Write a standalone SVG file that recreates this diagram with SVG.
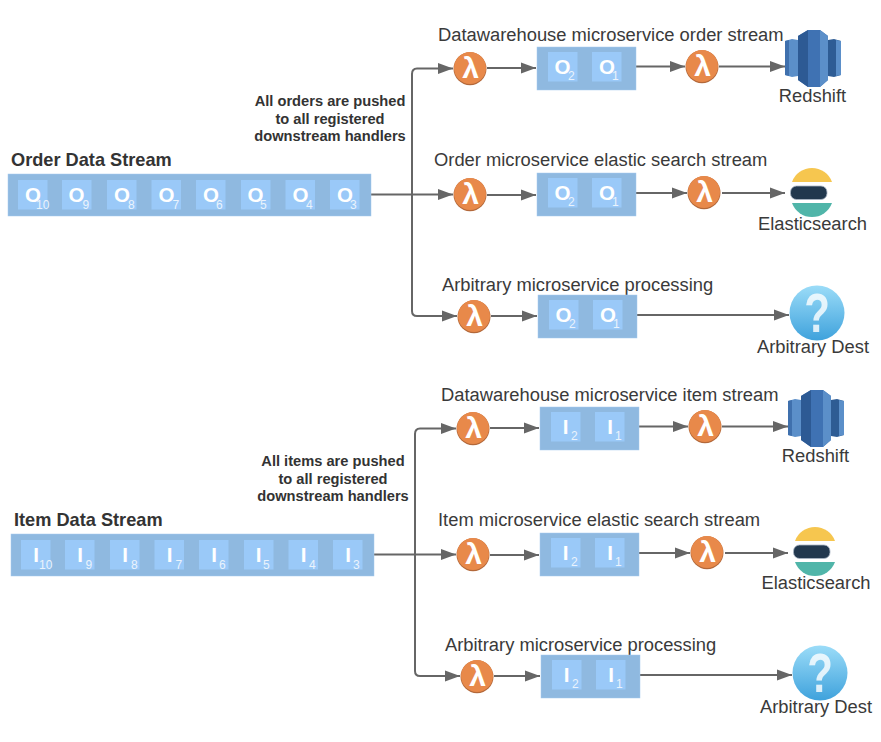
<svg xmlns="http://www.w3.org/2000/svg" width="881" height="742" viewBox="0 0 881 742">
<style>
text{font-family:"Liberation Sans",Arial,sans-serif}
.lb{font-size:18.35px;fill:#3a3a3a}
.mid{text-anchor:middle}
.ti{font-size:18.2px;font-weight:bold;fill:#333}
.nt{font-size:14.67px;font-weight:bold;fill:#333;text-anchor:middle}
.box{fill:#8fb9e0;stroke:#a6cbee;stroke-width:.5}
.sq{fill:#9ac9f8}
.ch{font-size:20.5px;font-weight:bold;fill:#fff;text-anchor:middle}
.sb{font-size:12px;fill:#eaf3fc}
.la{font-size:30px;font-weight:bold;fill:#fff;text-anchor:middle}
.qm{font-size:56px;font-weight:bold;fill:#fff;fill-opacity:.8;text-anchor:middle}
.c{fill:none;stroke:#666;stroke-width:2}
.ar{marker-end:url(#ah)}
</style>
<defs>
<marker id="ah" markerUnits="userSpaceOnUse" markerWidth="16" markerHeight="14" refX="15" refY="6" orient="auto"><path d="M0 0.500L15 6L0 11.500Z" fill="#666"/></marker>
<linearGradient id="q" x1="0" y1="0" x2="0" y2="1"><stop offset="0" stop-color="#9bdcf8"/><stop offset="1" stop-color="#3fa2dc"/></linearGradient>
<g id="lam"><circle r="16.500" cy="0.700" fill="#b3683a"/><circle r="16" fill="#e8894a"/></g>
<g id="rs">
<path d="M-27-17L-20-19L-14-18V18L-20 19L-27 17Z" fill="#5b8fc9"/><path d="M-27-17L-23-18V18L-27 17Z" fill="#3f70ad"/>
<path d="M29-17L22-19L16-18V18L22 19L29 17Z" fill="#2e5c94"/><path d="M29-17L24-18V18L29 17Z" fill="#5b8fc9"/>
<path d="M-14-22L-4-28H8L16-22V22L8 29H-4L-14 22Z" fill="#3f72b3"/>
<path d="M-14-22L-4-28V29L-14 22Z" fill="#2d5a94"/><path d="M8-28L16-22V22L8 29Z" fill="#5b8fc9"/>
</g>
<g id="es">
<path d="M-20-11A21.300 21.300 0 0 1 20-11Z" fill="#f6c64f"/>
<rect x="-21.500" y="-7" width="36.500" height="13.500" rx="6" fill="#22384e" stroke="#a9b5c4" stroke-width=".8"/>
<path d="M-20 10H20A21.300 21.300 0 0 1-20 10Z" fill="#50b5a9"/>
</g>
</defs>

<g id="connectors">
<path class="c" d="M371 194.500H412"/>
<path class="c ar" d="M412 194.500H453"/>
<path class="c ar" d="M412 194V74Q412 68.500 417 68.500H453"/>
<path class="c ar" d="M412 195V311Q412 316 417 316H457"/>
<path class="c ar" d="M487 68H536"/><path class="c ar" d="M636 66.500H685"/><path class="c ar" d="M719 66.500H785"/>
<path class="c ar" d="M487 195H536"/><path class="c ar" d="M636 193H687"/><path class="c ar" d="M722 193H785"/>
<path class="c ar" d="M491 316H537"/><path class="c ar" d="M637 315H789"/>
<path class="c" d="M374 554.500H415"/>
<path class="c ar" d="M415 554.500H456"/>
<path class="c ar" d="M415 554V434Q415 428.500 420 428.500H456"/>
<path class="c ar" d="M415 555V671Q415 676 420 676H460"/>
<path class="c ar" d="M490 428H539"/><path class="c ar" d="M639 426.500H688"/><path class="c ar" d="M722 426.500H788"/>
<path class="c ar" d="M490 555H539"/><path class="c ar" d="M639 553H690"/><path class="c ar" d="M725 553H788"/>
<path class="c ar" d="M494 676H540"/><path class="c ar" d="M640 675H792"/>
</g>

<g id="order-stream">
<text class="ti" x="11" y="166">Order Data Stream</text>
<rect class="box" x="8" y="174" width="363" height="42"/>
<rect class="sq" x="18" y="180" width="29.500" height="29.500"/><text class="ch" x="33" y="201.500">O</text><text class="sb" x="36" y="209">10</text>
<rect class="sq" x="62" y="180" width="29.500" height="29.500"/><text class="ch" x="76.500" y="201.500">O</text><text class="sb" x="82.500" y="209">9</text>
<rect class="sq" x="107" y="180" width="29.500" height="29.500"/><text class="ch" x="122" y="201.500">O</text><text class="sb" x="128" y="209">8</text>
<rect class="sq" x="151.500" y="180" width="29.500" height="29.500"/><text class="ch" x="166.500" y="201.500">O</text><text class="sb" x="172.500" y="209">7</text>
<rect class="sq" x="196" y="180" width="29.500" height="29.500"/><text class="ch" x="211" y="201.500">O</text><text class="sb" x="216" y="209">6</text>
<rect class="sq" x="241" y="180" width="29.500" height="29.500"/><text class="ch" x="255.500" y="201.500">O</text><text class="sb" x="260" y="209">5</text>
<rect class="sq" x="285.500" y="180" width="29.500" height="29.500"/><text class="ch" x="300.500" y="201.500">O</text><text class="sb" x="306" y="209">4</text>
<rect class="sq" x="330" y="180" width="29.500" height="29.500"/><text class="ch" x="345" y="201.500">O</text><text class="sb" x="350" y="209">3</text>
</g>
<g id="order-note">
<text class="nt" x="330" y="106">All orders are pushed</text>
<text class="nt" x="330" y="124">to all registered</text>
<text class="nt" x="330" y="141">downstream handlers</text>
</g>

<g id="order-dw">
<text class="lb" x="438" y="41">Datawarehouse microservice order stream</text>
<use href="#lam" x="470" y="68"/><text class="la" x="470.500" y="77.500">λ</text>
<rect class="box" x="537" y="47" width="99" height="43"/>
<rect class="sq" x="548" y="52" width="29.500" height="29.500"/><text class="ch" x="562.500" y="73.500">O</text><text class="sb" x="568" y="80">2</text>
<rect class="sq" x="592" y="52" width="29.500" height="29.500"/><text class="ch" x="607" y="73.500">O</text><text class="sb" x="612" y="80">1</text>
<use href="#lam" x="702" y="66"/><text class="la" x="702.500" y="75.500">λ</text>
</g>
<g id="order-redshift"><use href="#rs" x="812" y="58"/><text class="lb mid" x="812.500" y="102">Redshift</text></g>

<g id="order-es">
<text class="lb" x="434" y="166">Order microservice elastic search stream</text>
<use href="#lam" x="470" y="194"/><text class="la" x="470.500" y="203.500">λ</text>
<rect class="box" x="537" y="173" width="99" height="43"/>
<rect class="sq" x="548" y="178" width="29.500" height="29.500"/><text class="ch" x="562.500" y="199.500">O</text><text class="sb" x="568" y="206">2</text>
<rect class="sq" x="592" y="178" width="29.500" height="29.500"/><text class="ch" x="607" y="199.500">O</text><text class="sb" x="612" y="206">1</text>
<use href="#lam" x="704" y="192"/><text class="la" x="704.500" y="201.500">λ</text>
</g>
<g id="order-elastic"><use href="#es" x="812" y="193"/><text class="lb mid" x="812.500" y="230">Elasticsearch</text></g>

<g id="order-arb">
<text class="lb" x="442" y="291">Arbitrary microservice processing</text>
<use href="#lam" x="474" y="316"/><text class="la" x="474.500" y="325.500">λ</text>
<rect class="box" x="538" y="295" width="99" height="43"/>
<rect class="sq" x="549" y="300" width="29.500" height="29.500"/><text class="ch" x="563.500" y="321.500">O</text><text class="sb" x="569" y="328">2</text>
<rect class="sq" x="593" y="300" width="29.500" height="29.500"/><text class="ch" x="608" y="321.500">O</text><text class="sb" x="613" y="328">1</text>
</g>
<g id="order-dest"><circle cx="817" cy="313" r="27.500" fill="url(#q)"/><text class="qm" transform="translate(817 332) scale(.75 1)">?</text><text class="lb mid" x="813" y="353">Arbitrary Dest</text></g>

<g id="item-stream">
<text class="ti" x="14" y="526">Item Data Stream</text>
<rect class="box" x="11" y="534" width="363" height="42"/>
<rect class="sq" x="21" y="540" width="29.500" height="29.500"/><text class="ch" x="36" y="561.500">I</text><text class="sb" x="39" y="569">10</text>
<rect class="sq" x="65" y="540" width="29.500" height="29.500"/><text class="ch" x="80" y="561.500">I</text><text class="sb" x="85.500" y="569">9</text>
<rect class="sq" x="110" y="540" width="29.500" height="29.500"/><text class="ch" x="125" y="561.500">I</text><text class="sb" x="131" y="569">8</text>
<rect class="sq" x="154.500" y="540" width="29.500" height="29.500"/><text class="ch" x="169.500" y="561.500">I</text><text class="sb" x="175.500" y="569">7</text>
<rect class="sq" x="199" y="540" width="29.500" height="29.500"/><text class="ch" x="214" y="561.500">I</text><text class="sb" x="219" y="569">6</text>
<rect class="sq" x="244" y="540" width="29.500" height="29.500"/><text class="ch" x="258.500" y="561.500">I</text><text class="sb" x="263" y="569">5</text>
<rect class="sq" x="288.500" y="540" width="29.500" height="29.500"/><text class="ch" x="303.500" y="561.500">I</text><text class="sb" x="309" y="569">4</text>
<rect class="sq" x="333" y="540" width="29.500" height="29.500"/><text class="ch" x="348" y="561.500">I</text><text class="sb" x="353" y="569">3</text>
</g>
<g id="item-note">
<text class="nt" x="333" y="466">All items are pushed</text>
<text class="nt" x="333" y="484">to all registered</text>
<text class="nt" x="333" y="501">downstream handlers</text>
</g>

<g id="item-dw">
<text class="lb" x="441" y="401">Datawarehouse microservice item stream</text>
<use href="#lam" x="473" y="428"/><text class="la" x="473.500" y="437.500">λ</text>
<rect class="box" x="540" y="407" width="99" height="43"/>
<rect class="sq" x="551" y="412" width="29.500" height="29.500"/><text class="ch" x="565.500" y="433.500">I</text><text class="sb" x="571" y="440">2</text>
<rect class="sq" x="595" y="412" width="29.500" height="29.500"/><text class="ch" x="610" y="433.500">I</text><text class="sb" x="615" y="440">1</text>
<use href="#lam" x="705" y="426"/><text class="la" x="705.500" y="435.500">λ</text>
</g>
<g id="item-redshift"><use href="#rs" x="815" y="418"/><text class="lb mid" x="815.500" y="462">Redshift</text></g>

<g id="item-es">
<text class="lb" x="438" y="526">Item microservice elastic search stream</text>
<use href="#lam" x="473" y="554"/><text class="la" x="473.500" y="563.500">λ</text>
<rect class="box" x="540" y="533" width="99" height="43"/>
<rect class="sq" x="551" y="538" width="29.500" height="29.500"/><text class="ch" x="565.500" y="559.500">I</text><text class="sb" x="571" y="566">2</text>
<rect class="sq" x="595" y="538" width="29.500" height="29.500"/><text class="ch" x="610" y="559.500">I</text><text class="sb" x="615" y="566">1</text>
<use href="#lam" x="707" y="552"/><text class="la" x="707.500" y="561.500">λ</text>
</g>
<g id="item-elastic"><use href="#es" x="815" y="552"/><text class="lb mid" x="816" y="589">Elasticsearch</text></g>

<g id="item-arb">
<text class="lb" x="445" y="651">Arbitrary microservice processing</text>
<use href="#lam" x="477" y="676"/><text class="la" x="477.500" y="685.500">λ</text>
<rect class="box" x="541" y="655" width="99" height="43"/>
<rect class="sq" x="552" y="660" width="29.500" height="29.500"/><text class="ch" x="566.500" y="681.500">I</text><text class="sb" x="572" y="688">2</text>
<rect class="sq" x="596" y="660" width="29.500" height="29.500"/><text class="ch" x="611" y="681.500">I</text><text class="sb" x="616" y="688">1</text>
</g>
<g id="item-dest"><circle cx="820" cy="673" r="27.500" fill="url(#q)"/><text class="qm" transform="translate(820 692) scale(.75 1)">?</text><text class="lb mid" x="816" y="713">Arbitrary Dest</text></g>
</svg>
